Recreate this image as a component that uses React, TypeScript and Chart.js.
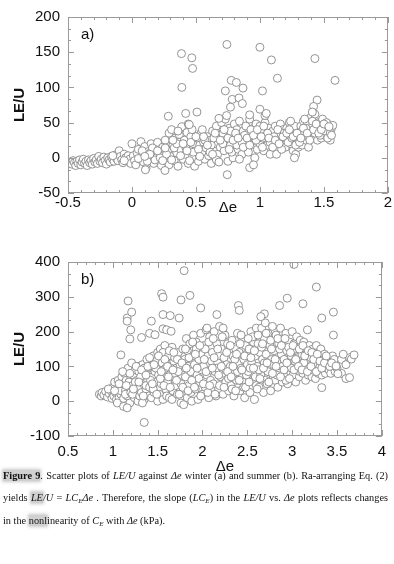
import React, { useEffect, useRef } from 'react';
import { Chart, registerables } from 'chart.js';

Chart.register(...registerables);

const FONT = '"Liberation Sans", Arial, sans-serif';

// Winter (a): [Δe, LE/U]
const winterPoints: [number, number][] = [
  [-0.48, -6], [-0.47, -9], [-0.46, -4], [-0.45, -7], [-0.44, -11], [-0.43, -5], [-0.42, -8], [-0.41, -3],
  [-0.40, -10], [-0.39, -6], [-0.38, -2], [-0.37, -8], [-0.36, -5], [-0.35, -11], [-0.34, -3], [-0.33, -7],
  [-0.32, -4], [-0.31, -9], [-0.30, -1], [-0.29, -6], [-0.28, -3], [-0.27, -8], [-0.26, 2], [-0.25, -5],
  [-0.24, -2], [-0.23, -7], [-0.22, 1], [-0.21, -4], [-0.20, -9], [-0.19, 0], [-0.18, -3], [-0.17, -6],
  [-0.16, 2], [-0.15, -2], [-0.14, -5], [-0.13, 4], [-0.12, -1], [-0.11, -4], [-0.10, 10], [-0.09, 2],
  [-0.08, -3], [-0.07, -7], [-0.06, 5], [-0.05, 0], [-0.04, -4], [-0.03, 3], [-0.02, -2], [-0.01, -8],
  [-0.06, -4], [-0.15, 3],
  [0.00, 20], [0.01, 3], [0.02, -4], [0.03, -10], [0.04, 7], [0.05, 12], [0.06, -2], [0.07, 23], [0.08, 1], [0.09, -6],
  [0.10, 16], [0.11, -15], [0.12, 5], [0.13, 9], [0.14, -3], [0.15, 20], [0.16, 0], [0.17, -8], [0.18, 12], [0.19, 4],
  [0.20, 22], [0.21, -2], [0.22, 8], [0.23, -11], [0.24, 15], [0.25, 3], [0.26, 25], [0.27, -5], [0.28, 10], [0.29, 35], [0.30, 2], [0.29, -10],
  [0.31, 40], [0.32, 18], [0.33, -4], [0.34, 28], [0.35, 7], [0.36, -12], [0.37, 33], [0.38, 12], [0.39, 44], [0.40, -2], [0.33, 14], [0.37, 22],
  [0.41, 25], [0.42, 5], [0.43, 36], [0.44, -8], [0.45, 15], [0.46, 30], [0.47, 0], [0.48, 20], [0.49, -12], [0.50, 10], [0.44, 48], [0.47, 40],
  [0.51, 28], [0.52, -5], [0.53, 18], [0.54, 35], [0.55, 6], [0.56, 22], [0.57, -2], [0.58, 14], [0.59, 30], [0.60, 3], [0.55, 40],
  [0.61, 25], [0.62, -8], [0.63, 38], [0.64, 12], [0.65, 20], [0.66, 45], [0.67, 5], [0.68, 30], [0.69, 15], [0.70, 50], [0.62, 18], [0.66, -3],
  [0.71, 35], [0.72, 10], [0.73, 55], [0.74, 22], [0.75, -5], [0.76, 42], [0.77, 18], [0.78, 30], [0.79, 0], [0.80, 48], [0.74, 60], [0.78, 8],
  [0.81, 25], [0.82, 40], [0.83, 12], [0.84, 52], [0.85, 30], [0.86, 5], [0.87, 38], [0.88, 20], [0.89, 45], [0.90, 15], [0.84, -2],
  [0.91, 35], [0.92, 55], [0.93, 22], [0.94, 8], [0.95, 42], [0.96, 28], [0.97, 48], [0.98, 12], [0.99, 35], [1.00, 20], [0.96, 0],
  [1.01, 40], [1.02, 28], [1.03, 10], [1.04, 50], [1.05, 32], [1.06, 18], [1.07, 42], [1.08, 5], [1.09, 25], [1.10, 38], [1.04, 60],
  [1.11, 20], [1.12, 45], [1.13, 30], [1.14, 12], [1.15, 35], [1.16, 48], [1.17, 22], [1.18, 40], [1.19, 28], [1.20, 15], [1.13, 5],
  [1.21, 42], [1.22, 30], [1.23, 50], [1.24, 20], [1.25, 35], [1.26, 10], [1.27, 45], [1.28, 5], [1.29, 25], [1.30, 15], [1.27, 0], [1.24, 52],
  [1.31, 30], [1.32, 45], [1.33, 18], [1.34, 52], [1.35, 35], [1.36, 25], [1.37, 48], [1.38, 15], [1.39, 40], [1.40, 58], [1.35, 55],
  [1.41, 45], [1.42, 30], [1.43, 62], [1.44, 38], [1.45, 25], [1.46, 50], [1.47, 40], [1.48, 28], [1.49, 55], [1.50, 35],
  [1.51, 45], [1.52, 30], [1.53, 48], [1.54, 38], [1.55, 25], [1.56, 42], [1.57, 46], [1.52, 50],
  [0.05, -1], [0.12, -5], [0.18, -3], [0.22, 0], [0.27, 5], [0.31, -3], [0.35, 20], [0.38, 3], [0.42, 15], [0.45, -4],
  [0.48, 8], [0.52, 12], [0.57, 25], [0.61, 8], [0.64, 28], [0.68, -6], [0.71, 20], [0.75, 28], [0.77, 38], [0.82, 18],
  [0.86, 22], [0.88, 32], [0.91, 8], [0.93, 40], [0.97, 25], [1.00, 45], [1.02, 15], [1.06, 35], [1.08, 22], [1.11, 30],
  [1.14, 40], [1.17, 12], [1.19, 35], [1.22, 22], [1.25, 28], [1.28, 18], [1.31, 22], [1.33, 38], [1.36, 42], [1.38, 30],
  [1.41, 52], [1.43, 35], [1.45, 42], [1.47, 32], [1.49, 45], [1.51, 38], [1.53, 28], [1.55, 35], [0.08, 10], [0.15, 8],
  [0.24, -4], [0.16, 14],
  [0.32, 25], [0.36, 38], [0.40, 20], [0.43, 10], [0.46, 22], [0.50, 30], [0.53, 2], [0.56, 30], [0.59, 18], [0.63, 5],
  [0.65, 35], [0.69, 25], [0.72, 40], [0.76, 12], [0.79, 25], [0.81, 35], [0.83, 28], [0.87, 15], [0.90, 28], [0.92, 18],
  [0.95, 32], [0.98, 40], [1.01, 30], [1.03, 45], [1.07, 28], [1.10, 15], [1.12, 25], [1.15, 20], [1.18, 30], [1.21, 35],
  [1.23, 40], [1.26, 30], [1.29, 35], [1.32, 28], [1.34, 42], [1.37, 35], [1.39, 25], [1.42, 40], [1.44, 48], [1.46, 35],
  [1.48, 40], [1.50, 48], [1.54, 44], [1.56, 32], [0.20, 10], [0.26, 14], [0.14, 5], [0.10, 2],
  // scattered high / low values
  [0.387, 148], [0.468, 142], [0.474, 127], [0.39, 100], [0.742, 161], [1.0, 157], [1.09, 139], [1.137, 113],
  [1.43, 141], [1.587, 110], [1.02, 95], [0.73, 95], [0.776, 110], [0.816, 107], [0.868, 99], [0.784, 83],
  [0.837, 85], [0.863, 77], [0.77, 72], [0.284, 59], [0.42, 63], [0.508, 65], [0.447, 47], [1.0, 69],
  [1.05, 63], [0.92, 61], [0.68, 56], [1.447, 82], [1.42, 73], [1.41, 65], [0.745, -24], [0.92, -14],
  [0.95, -10], [0.258, -18], [0.105, -17],
];

// Summer (b): [Δe, LE/U]
const summerPoints: [number, number][] = [
  [0.85, 20], [0.87, 15], [0.88, 25], [0.90, 18], [0.92, 28], [0.94, 12], [0.96, 22], [0.98, 30], [0.99, 8],
  [1.00, 40], [1.01, 15], [1.02, 55], [1.03, 25], [1.04, 5], [1.05, 35], [1.06, 60], [1.07, 10], [1.08, 45], [1.09, 20], [1.10, 70], [1.05, -5], [1.09, 30],
  [1.11, 50], [1.12, 8], [1.13, 80], [1.14, 30], [1.15, 60], [1.16, 15], [1.17, 95], [1.18, 40], [1.19, -5], [1.20, 70], [1.12, -15], [1.14, 20], [1.18, 55], [1.20, 25],
  [1.21, 110], [1.22, 45], [1.23, 75], [1.24, 10], [1.25, 90], [1.26, 30], [1.27, 60], [1.28, 0], [1.29, 85], [1.30, 40], [1.22, 20], [1.25, 55], [1.28, 100], [1.30, 15],
  [1.31, 70], [1.32, 25], [1.33, 105], [1.34, 50], [1.35, 5], [1.36, 85], [1.37, 35], [1.38, 120], [1.39, 60], [1.40, 15], [1.33, -5], [1.35, 95], [1.37, 45], [1.40, 75],
  [1.41, 40], [1.42, 100], [1.43, 10], [1.44, 70], [1.45, 130], [1.46, 25], [1.47, 85], [1.48, 55], [1.49, 115], [1.50, 0], [1.42, 60], [1.45, 35], [1.48, 95], [1.50, 140],
  [1.51, 75], [1.52, 20], [1.53, 150], [1.54, 50], [1.55, 110], [1.56, 5], [1.57, 90], [1.58, 160], [1.59, 35], [1.60, 125], [1.53, 65], [1.56, 140], [1.59, 95], [1.60, 15],
  [1.61, 55], [1.62, 130], [1.63, 10], [1.64, 100], [1.65, 70], [1.66, 155], [1.67, 30], [1.68, 115], [1.69, 80], [1.70, 45], [1.63, 145], [1.66, 5], [1.69, 125],
  [1.71, 95], [1.72, 20], [1.73, 140], [1.74, 60], [1.75, 105], [1.76, -5], [1.77, 75], [1.78, 150], [1.79, 35], [1.80, 120], [1.73, 85], [1.76, 50], [1.79, -10],
  [1.81, 70], [1.82, 180], [1.83, 10], [1.84, 100], [1.85, 45], [1.86, 165], [1.87, 85], [1.88, 0], [1.89, 130], [1.90, 60], [1.83, 145], [1.87, 25], [1.90, 190],
  [1.91, 105], [1.92, 35], [1.93, 150], [1.94, 75], [1.95, 5], [1.96, 120], [1.97, 55], [1.98, 195], [1.99, 90], [2.00, 20], [1.93, 170], [1.96, 65], [2.00, 135],
  [2.01, 100], [2.02, 160], [2.03, 40], [2.04, 205], [2.05, 75], [2.06, 130], [2.07, 10], [2.08, 185], [2.09, 60], [2.10, 115], [2.03, 150], [2.06, 25], [2.09, 90], [2.05, 210],
  [2.11, 140], [2.12, 50], [2.13, 200], [2.14, 85], [2.15, 15], [2.16, 165], [2.17, 110], [2.18, 35], [2.19, 215], [2.20, 70], [2.13, 125], [2.16, 95], [2.19, 45],
  [2.21, 150], [2.22, 80], [2.23, 20], [2.24, 125], [2.25, 190], [2.26, 55], [2.27, 105], [2.28, 165], [2.29, 30], [2.30, 140], [2.23, 210], [2.26, 90], [2.29, 65],
  [2.31, 100], [2.32, 45], [2.33, 175], [2.34, 130], [2.35, 15], [2.36, 80], [2.37, 150], [2.38, 60], [2.39, 195], [2.40, 110], [2.33, 35], [2.36, 120], [2.39, 85],
  [2.41, 140], [2.42, 30], [2.43, 95], [2.44, 180], [2.45, 55], [2.46, 120], [2.47, 10], [2.48, 160], [2.49, 75], [2.50, 105], [2.43, 190], [2.46, 40], [2.49, 135],
  [2.51, 85], [2.52, 150], [2.53, 25], [2.54, 200], [2.55, 110], [2.56, 60], [2.57, 170], [2.58, 5], [2.59, 130], [2.60, 45], [2.53, 95], [2.56, 185], [2.59, 70], [2.60, 210],
  [2.61, 100], [2.62, 165], [2.63, 40], [2.64, 140], [2.65, 75], [2.66, 210], [2.67, 120], [2.68, 25], [2.69, 180], [2.70, 60], [2.63, 90], [2.66, 155], [2.69, 110], [2.70, 225],
  [2.71, 135], [2.72, 50], [2.73, 195], [2.74, 95], [2.75, 160], [2.76, 30], [2.77, 120], [2.78, 215], [2.79, 70], [2.80, 145], [2.73, 85], [2.76, 175], [2.79, 105],
  [2.81, 60], [2.82, 190], [2.83, 115], [2.84, 40], [2.85, 165], [2.86, 90], [2.87, 210], [2.88, 135], [2.89, 55], [2.90, 180], [2.83, 75], [2.86, 150], [2.89, 100],
  [2.91, 120], [2.92, 70], [2.93, 195], [2.94, 145], [2.95, 50], [2.96, 105], [2.97, 170], [2.98, 85], [2.99, 130], [3.00, 200], [2.93, 60], [2.96, 155], [2.99, 95],
  [3.01, 75], [3.02, 165], [3.03, 115], [3.04, 55], [3.05, 185], [3.06, 95], [3.07, 140], [3.08, 70], [3.09, 175], [3.10, 110], [3.03, 150], [3.06, 125], [3.09, 85],
  [3.11, 135], [3.12, 80], [3.13, 170], [3.14, 100], [3.15, 60], [3.16, 150], [3.17, 120], [3.18, 75], [3.19, 160], [3.20, 95], [3.13, 110], [3.16, 90], [3.19, 130],
  [3.21, 125], [3.22, 70], [3.23, 150], [3.24, 95], [3.25, 115], [3.26, 65], [3.27, 160], [3.28, 105], [3.29, 80], [3.30, 140], [3.23, 90], [3.26, 130],
  [3.31, 100], [3.32, 150], [3.33, 75], [3.34, 120], [3.35, 90], [3.36, 135], [3.37, 80], [3.38, 110], [3.39, 95], [3.40, 125],
  [3.41, 90], [3.42, 115], [3.43, 80], [3.45, 130], [3.47, 120], [3.48, 85], [3.50, 95], [3.55, 120], [3.60, 105], [3.64, 125], [3.55, 80], [3.60, 65],
  [0.95, 35], [1.02, 30], [1.07, 50], [1.11, 85], [1.15, 45], [1.19, 80], [1.23, 35], [1.26, 100], [1.29, 55], [1.32, 90],
  [1.34, 15], [1.37, 75], [1.39, 100], [1.41, 125], [1.44, 50], [1.46, 105], [1.49, 20], [1.51, 130], [1.54, 85], [1.57, 45],
  [1.58, 120], [1.61, 100], [1.62, 70], [1.64, 40], [1.67, 90], [1.68, 140], [1.71, 60], [1.72, 120], [1.74, 20], [1.77, 110],
  [1.78, 40], [1.81, 150], [1.82, 95], [1.84, 30], [1.85, 125], [1.88, 60], [1.89, 170], [1.91, 40], [1.92, 135], [1.94, 95],
  [1.97, 160], [1.98, 15], [2.01, 50], [2.02, 120], [2.04, 85], [2.07, 170], [2.08, 45], [2.11, 95], [2.12, 180], [2.14, 20],
  [2.17, 150], [2.18, 75], [2.21, 100], [2.22, 185], [2.24, 40], [2.27, 140], [2.28, 85], [2.31, 160], [2.32, 70], [2.34, 100],
  [2.37, 30], [2.38, 135], [2.41, 60], [2.42, 165], [2.44, 90], [2.47, 130], [2.48, 40], [2.51, 180], [2.52, 55], [2.54, 125],
  [2.57, 95], [2.58, 145], [2.61, 35], [2.62, 190], [2.64, 65], [2.67, 165], [2.68, 95], [2.71, 195], [2.72, 110], [2.74, 55],
  [2.77, 150], [2.78, 80], [2.81, 120], [2.82, 100], [2.84, 180], [2.87, 70], [2.88, 160], [2.91, 90], [2.92, 180], [2.94, 110],
  [2.97, 65], [2.98, 140], [3.01, 160], [3.02, 90], [3.04, 120], [3.07, 100], [3.08, 150], [3.11, 90], [3.12, 160], [3.14, 130],
  [3.17, 85], [3.18, 145], [3.21, 100], [3.22, 140], [3.24, 120], [3.27, 85], [3.28, 135], [3.31, 115], [3.33, 95], [3.36, 110],
  [3.38, 130], [3.42, 100], [3.44, 110],
  // scattered high / low values
  [1.795, 375], [3.02, 393], [3.27, 328], [1.544, 309], [1.56, 299], [1.86, 304], [1.17, 288], [1.98, 268],
  [1.76, 291], [2.40, 275], [2.41, 261], [2.945, 296], [2.86, 275], [3.12, 280], [3.46, 256], [3.33, 239],
  [2.69, 251], [2.65, 243], [1.16, 239], [1.21, 256], [1.16, 230], [1.20, 205], [1.19, 179], [2.16, 249],
  [1.74, 239], [1.56, 249], [1.64, 246], [1.43, 230], [1.32, 183], [1.41, 195], [1.47, 191], [1.56, 208],
  [1.60, 205], [1.65, 201], [1.09, 133], [3.46, 190], [3.17, 205], [3.57, 135], [3.66, 121], [3.69, 133],
  [3.64, 68], [3.49, 101], [3.51, 79], [3.33, 39], [1.35, -61], [1.16, -19],
];

const winterXRange = [-0.5, 2];
const winterYRange = [-50, 200];
const summerXRange = [0.5, 4];
const summerYRange = [-100, 400];

type FrameOpts = {
  xMajor: number; xMinorPer: number; yMajor: number; yMinorPer: number; label: string;
};

const framePlugin = {
  id: 'frameTicks',
  afterDraw(chart: any, _args: any, opts: FrameOpts) {
    const { ctx, chartArea } = chart;
    const { left, right, top, bottom } = chartArea;
    const xs = chart.scales.x;
    const ys = chart.scales.y;
    ctx.save();
    ctx.strokeStyle = '#9a9a9a';
    ctx.lineWidth = 1;
    ctx.strokeRect(Math.round(left) + 0.5, Math.round(top) + 0.5, Math.round(right - left) - 1, Math.round(bottom - top) - 1);
    const majorLen = 6;
    const minorLen = 3;
    ctx.beginPath();
    {
      const minor = opts.xMajor / opts.xMinorPer;
      const n = Math.round((xs.max - xs.min) / minor);
      for (let i = 0; i <= n; i++) {
        const v = xs.min + i * minor;
        const px = Math.round(xs.getPixelForValue(v)) + 0.5;
        const len = i % opts.xMinorPer === 0 ? majorLen : minorLen;
        ctx.moveTo(px, bottom);
        ctx.lineTo(px, bottom - len);
        ctx.moveTo(px, top);
        ctx.lineTo(px, top + len);
      }
    }
    {
      const minor = opts.yMajor / opts.yMinorPer;
      const n = Math.round((ys.max - ys.min) / minor);
      for (let i = 0; i <= n; i++) {
        const v = ys.min + i * minor;
        const py = Math.round(ys.getPixelForValue(v)) + 0.5;
        const len = i % opts.yMinorPer === 0 ? majorLen : minorLen;
        ctx.moveTo(left, py);
        ctx.lineTo(left + len, py);
        ctx.moveTo(right, py);
        ctx.lineTo(right - len, py);
      }
    }
    ctx.stroke();
    ctx.fillStyle = '#111';
    ctx.font = `15px ${FONT}`;
    ctx.textBaseline = 'middle';
    ctx.textAlign = 'left';
    ctx.fillText(opts.label, left + 13, top + 18);
    ctx.restore();
  },
};

const fmt = (v: any) => String(Math.round(Number(v) * 10) / 10);

function makeConfig(
  points: [number, number][],
  xr: number[],
  yr: number[],
  yStep: number,
  padTop: number,
  xAxisH: number,
  xTickPad: number,
  titlePadBottom: number,
  frame: FrameOpts,
): any {
  return {
    type: 'scatter',
    data: {
      datasets: [
        {
          data: points.map(([x, y]) => ({ x, y })),
          pointRadius: 4,
          pointHoverRadius: 4,
          pointBorderColor: '#888888',
          pointBackgroundColor: '#ffffff',
          pointBorderWidth: 0.9,
        },
      ],
    },
    options: {
      responsive: false,
      animation: false,
      devicePixelRatio: 1,
      layout: { padding: { top: padTop, right: 6, left: 0, bottom: 0 } },
      plugins: {
        legend: { display: false },
        tooltip: { enabled: false },
        frameTicks: frame,
      },
      scales: {
        x: {
          type: 'linear',
          min: xr[0],
          max: xr[1],
          grid: { display: false, drawTicks: false },
          border: { display: false },
          ticks: {
            stepSize: 0.5,
            color: '#111',
            padding: xTickPad,
            maxRotation: 0,
            autoSkip: false,
            callback: fmt,
            font: { family: FONT, size: 15, lineHeight: 1 },
          },
          title: {
            display: true,
            text: 'Δe',
            color: '#111',
            font: { family: FONT, size: 15 },
            padding: { top: 0, bottom: titlePadBottom },
          },
          afterFit: (s: any) => {
            s.height = xAxisH;
          },
        },
        y: {
          type: 'linear',
          min: yr[0],
          max: yr[1],
          grid: { display: false, drawTicks: false },
          border: { display: false },
          ticks: {
            stepSize: yStep,
            color: '#111',
            padding: 8,
            autoSkip: false,
            callback: fmt,
            font: { family: FONT, size: 15 },
          },
          title: {
            display: true,
            text: 'LE/U',
            color: '#111',
            font: { family: FONT, size: 15, weight: 'bold' },
            padding: { top: 11, bottom: 0 },
          },
          afterFit: (s: any) => {
            s.width = 68;
          },
        },
      },
    },
    plugins: [framePlugin],
  };
}

function ScatterCanvas({ config, width, height, top }: { config: any; width: number; height: number; top: number }) {
  const ref = useRef<HTMLCanvasElement | null>(null);
  useEffect(() => {
    if (!ref.current) return;
    const chart = new Chart(ref.current, config);
    return () => chart.destroy();
  }, [config]);
  return (
    <canvas
      ref={ref}
      width={width}
      height={height}
      style={{ position: 'absolute', left: 0, top, width, height }}
    />
  );
}

const configA = makeConfig(winterPoints, winterXRange, winterYRange, 50, 15, 35, 2, 11, {
  xMajor: 0.5, xMinorPer: 5, yMajor: 50, yMinorPer: 3, label: 'a)',
});
const configB = makeConfig(summerPoints, summerXRange, summerYRange, 100, 26, 40, 8, 0, {
  xMajor: 0.5, xMinorPer: 5, yMajor: 100, yMinorPer: 3, label: 'b)',
});

const shade: React.CSSProperties = {
  background: 'rgba(150,150,150,0.45)',
  boxShadow: '0 0 3px 1px rgba(150,150,150,0.5)',
};

const lineStyle: React.CSSProperties = {
  position: 'absolute',
  left: 3,
  width: 385,
  height: 14,
  lineHeight: '14px',
  fontSize: 10.3,
  fontFamily: '"Liberation Serif", "Times New Roman", serif',
  color: '#111',
  whiteSpace: 'nowrap',
};

const subStyle: React.CSSProperties = { fontSize: 7, verticalAlign: '-2px', lineHeight: 0 };

export default function App() {
  return (
    <div style={{ position: 'absolute', left: 0, top: 0, width: 394, height: 564, background: '#fff', overflow: 'hidden' }}>
      <ScatterCanvas config={configA} width={394} height={228} top={0} />
      <ScatterCanvas config={configB} width={394} height={240} top={236} />
      <div style={{ ...lineStyle, top: 469, textAlign: 'justify', textAlignLast: 'justify' }}>
        <b style={shade}>Figure 9</b>. Scatter plots of <i>LE/U</i> against <i>Δe</i> winter (a) and summer (b). Ra-arranging Eq. (2)
      </div>
      <div style={{ ...lineStyle, top: 491, textAlign: 'justify', textAlignLast: 'justify' }}>
        yields <i><span style={shade}>LE</span>/U</i> = <i>LC</i><sub style={subStyle}><i>E</i></sub><i>Δe</i> . Therefore, the slope (<i>LC<sub style={subStyle}>E</sub></i>) in the <i>LE/U</i> vs. <i>Δe</i> plots reflects changes
      </div>
      <div style={{ ...lineStyle, top: 514 }}>
        in the <span style={shade}>nonl</span>inearity of <i>C<sub style={subStyle}>E</sub></i> with <i>Δe</i> (kPa).
      </div>
    </div>
  );
}
